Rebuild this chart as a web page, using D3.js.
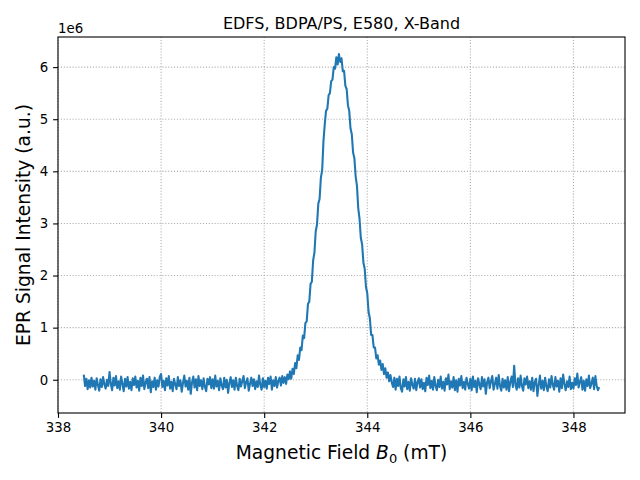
<!DOCTYPE html>
<html>
<head>
<meta charset="utf-8">
<script src="https://cdn.jsdelivr.net/npm/d3@7"></script>
<style>
  body { margin: 0; background: #fff; }
  svg { display: block; font-family: "DejaVu Sans", sans-serif; }
</style>
</head>
<body>
<div class="epr-chart"></div>
<script>
const width = 640;
const height = 480;
const margin = { top: 37, right: 15, bottom: 67, left: 58 };

// magnetic field sweep (mT)
const field = [
  338.5,338.525,338.55,338.575,338.6,338.625,338.65,338.675,338.7,338.725,338.75,338.775,338.8,338.825,338.85,338.875,338.9,338.925,338.95,338.975,
  339,339.025,339.05,339.075,339.1,339.125,339.15,339.175,339.2,339.225,339.25,339.275,339.3,339.325,339.35,339.375,339.4,339.425,339.45,339.475,
  339.5,339.525,339.55,339.575,339.6,339.625,339.65,339.675,339.7,339.725,339.75,339.775,339.8,339.825,339.85,339.875,339.9,339.925,339.95,339.975,
  340,340.025,340.05,340.075,340.1,340.125,340.15,340.175,340.2,340.225,340.25,340.275,340.3,340.325,340.35,340.375,340.4,340.425,340.45,340.475,
  340.5,340.525,340.55,340.575,340.6,340.625,340.65,340.675,340.7,340.725,340.75,340.775,340.8,340.825,340.85,340.875,340.9,340.925,340.95,340.975,
  341,341.025,341.05,341.075,341.1,341.125,341.15,341.175,341.2,341.225,341.25,341.275,341.3,341.325,341.35,341.375,341.4,341.425,341.45,341.475,
  341.5,341.525,341.55,341.575,341.6,341.625,341.65,341.675,341.7,341.725,341.75,341.775,341.8,341.825,341.85,341.875,341.9,341.925,341.95,341.975,
  342,342.025,342.05,342.075,342.1,342.125,342.15,342.175,342.2,342.225,342.25,342.275,342.3,342.325,342.35,342.375,342.4,342.425,342.45,342.475,
  342.5,342.525,342.55,342.575,342.6,342.625,342.65,342.675,342.7,342.725,342.75,342.775,342.8,342.825,342.85,342.875,342.9,342.925,342.95,342.975,
  343,343.025,343.05,343.075,343.1,343.125,343.15,343.175,343.2,343.225,343.25,343.275,343.3,343.325,343.35,343.375,343.4,343.425,343.45,343.475,
  343.5,343.525,343.55,343.575,343.6,343.625,343.65,343.675,343.7,343.725,343.75,343.775,343.8,343.825,343.85,343.875,343.9,343.925,343.95,343.975,
  344,344.025,344.05,344.075,344.1,344.125,344.15,344.175,344.2,344.225,344.25,344.275,344.3,344.325,344.35,344.375,344.4,344.425,344.45,344.475,
  344.5,344.525,344.55,344.575,344.6,344.625,344.65,344.675,344.7,344.725,344.75,344.775,344.8,344.825,344.85,344.875,344.9,344.925,344.95,344.975,
  345,345.025,345.05,345.075,345.1,345.125,345.15,345.175,345.2,345.225,345.25,345.275,345.3,345.325,345.35,345.375,345.4,345.425,345.45,345.475,
  345.5,345.525,345.55,345.575,345.6,345.625,345.65,345.675,345.7,345.725,345.75,345.775,345.8,345.825,345.85,345.875,345.9,345.925,345.95,345.975,
  346,346.025,346.05,346.075,346.1,346.125,346.15,346.175,346.2,346.225,346.25,346.275,346.3,346.325,346.35,346.375,346.4,346.425,346.45,346.475,
  346.5,346.525,346.55,346.575,346.6,346.625,346.65,346.675,346.7,346.725,346.75,346.775,346.8,346.825,346.85,346.875,346.9,346.925,346.95,346.975,
  347,347.025,347.05,347.075,347.1,347.125,347.15,347.175,347.2,347.225,347.25,347.275,347.3,347.325,347.35,347.375,347.4,347.425,347.45,347.475,
  347.5,347.525,347.55,347.575,347.6,347.625,347.65,347.675,347.7,347.725,347.75,347.775,347.8,347.825,347.85,347.875,347.9,347.925,347.95,347.975,
  348,348.025,348.05,348.075,348.1,348.125,348.15,348.175,348.2,348.225,348.25,348.275,348.3,348.325,348.35,348.375,348.4,348.425,348.45,348.475,
  348.5
];

// EPR signal intensity, in units of 1e6 (a.u.)
const signal = [
  0.10,-0.12,0.02,-0.18,-0.01,-0.15,0.04,-0.13,-0.02,-0.19,0.03,-0.10,-0.21,0.01,-0.14,0.05,-0.09,-0.17,0.00,-0.12,
  0.15,-0.08,-0.20,0.04,-0.11,0.07,-0.16,-0.03,-0.19,0.06,-0.08,-0.22,0.02,-0.13,0.05,-0.17,-0.04,-0.20,0.03,-0.10,
  0.06,-0.15,-0.02,-0.21,0.04,-0.12,0.08,-0.18,-0.05,0.02,-0.16,0.05,-0.24,-0.03,-0.14,0.04,-0.19,-0.01,-0.13,0.06,
  0.11,-0.14,-0.02,-0.20,0.03,-0.11,0.07,-0.17,-0.04,-0.22,0.02,-0.09,-0.18,0.05,-0.12,-0.01,-0.23,-0.06,0.08,-0.13,
  -0.02,-0.19,0.04,-0.27,-0.05,0.06,-0.15,0.01,-0.20,0.07,-0.12,-0.01,-0.18,0.03,-0.14,-0.22,0.02,-0.09,0.05,-0.16,
  0.01,-0.17,0.08,-0.13,-0.02,-0.20,0.03,-0.11,-0.18,0.04,-0.15,0.00,-0.25,-0.06,0.05,-0.14,-0.01,-0.19,0.04,-0.12,
  -0.20,0.02,-0.13,-0.03,0.07,-0.16,-0.05,0.03,-0.21,-0.08,0.04,-0.12,0.01,-0.18,-0.03,-0.14,0.08,-0.10,-0.19,0.03,
  -0.14,-0.02,-0.17,0.04,-0.08,0.06,-0.19,-0.01,-0.12,0.05,-0.15,-0.02,0.04,-0.11,0.07,-0.06,0.05,-0.08,0.10,0.01,
  0.16,0.02,0.21,0.11,0.32,0.22,0.47,0.38,0.62,0.57,0.85,0.80,1.09,1.12,1.46,1.50,1.84,1.88,2.29,2.44,
  2.85,2.98,3.38,3.47,3.88,4.02,4.58,4.90,5.16,5.20,5.46,5.50,5.73,5.76,6.00,5.97,6.19,6.05,6.25,6.10,
  6.17,5.92,5.93,5.64,5.58,5.27,5.16,4.82,4.71,4.36,4.25,3.90,3.72,3.29,3.09,2.72,2.60,2.25,2.13,1.78,
  1.66,1.30,1.18,0.86,0.86,0.62,0.62,0.41,0.47,0.29,0.37,0.19,0.30,0.11,0.22,0.04,0.14,-0.03,0.09,-0.05,
  -0.14,0.04,-0.19,0.02,-0.12,0.06,-0.16,-0.23,0.01,-0.13,0.05,-0.18,-0.04,-0.21,0.03,-0.10,-0.17,0.02,-0.20,-0.05,
  0.03,-0.15,0.01,-0.18,-0.06,-0.22,0.04,-0.10,0.08,-0.16,-0.02,-0.19,0.05,-0.12,-0.20,0.00,-0.14,0.06,-0.17,-0.04,
  -0.21,0.03,-0.09,0.10,-0.18,-0.03,-0.15,0.05,-0.20,-0.01,-0.23,0.02,-0.11,0.07,-0.16,-0.04,-0.19,0.04,-0.08,-0.17,
  0.02,-0.20,0.06,-0.14,-0.02,-0.24,0.03,-0.09,-0.18,0.05,-0.13,0.01,-0.27,-0.05,0.04,-0.16,-0.03,0.07,-0.19,-0.08,
  0.04,-0.17,0.09,-0.12,-0.21,0.02,-0.15,-0.01,-0.19,0.05,-0.22,-0.04,0.06,-0.14,0.27,-0.10,-0.19,0.03,-0.15,0.08,
  -0.12,-0.21,0.03,-0.09,0.06,-0.16,-0.03,-0.19,0.04,-0.22,-0.05,0.02,-0.31,-0.11,0.08,-0.17,-0.02,-0.20,0.04,-0.13,
  -0.22,0.01,-0.15,0.07,-0.10,-0.19,0.05,-0.13,-0.02,-0.23,0.03,-0.16,0.10,-0.08,-0.20,-0.03,-0.14,0.06,-0.18,-0.06,
  -0.17,0.03,-0.10,0.12,-0.15,-0.04,0.05,-0.19,-0.02,-0.21,0.01,-0.12,0.08,-0.16,-0.07,0.04,-0.18,0.07,-0.11,-0.20,
  -0.14
];

const xTicks = [338, 340, 342, 344, 346, 348];
const yTicks = [0, 1, 2, 3, 4, 5, 6];

const titleText = "EDFS, BDPA/PS, E580, X-Band";
const yLabelText = "EPR Signal Intensity (a.u.)";
const offsetText = "1e6";

function eprChart() {
    const data = field.map((b, i) => ({ b: b, v: signal[i] }));

    const svg = d3
        .select(".epr-chart")
        .append("svg")
        .attr("width", width)
        .attr("height", height);

    const innerW = width - margin.left - margin.right;
    const innerH = height - margin.top - margin.bottom;

    // matplotlib style 5% margins around the data
    const xExt = d3.extent(data, (d) => d.b);
    const yExt = d3.extent(data, (d) => d.v);
    const xPad = (xExt[1] - xExt[0]) * 0.05;
    const yPad = (yExt[1] - yExt[0]) * 0.05;

    const x = d3
        .scaleLinear()
        .domain([xExt[0] - xPad, xExt[1] + xPad])
        .range([margin.left, margin.left + innerW]);
    const y = d3
        .scaleLinear()
        .domain([yExt[0] - yPad, yExt[1] + yPad])
        .range([margin.top + innerH, margin.top]);

    // dotted grid
    const grid = svg.append("g")
        .attr("stroke", "#b0b0b0")
        .attr("stroke-width", 1.1)
        .attr("stroke-dasharray", "1.1,1.8");
    grid.selectAll(".gx")
        .data(xTicks)
        .enter()
        .append("line")
        .attr("x1", (d) => x(d))
        .attr("x2", (d) => x(d))
        .attr("y1", margin.top)
        .attr("y2", margin.top + innerH);
    grid.selectAll(".gy")
        .data(yTicks)
        .enter()
        .append("line")
        .attr("x1", margin.left)
        .attr("x2", margin.left + innerW)
        .attr("y1", (d) => y(d))
        .attr("y2", (d) => y(d));

    // spectrum
    const line = d3.line()
        .x((d) => x(d.b))
        .y((d) => y(d.v));
    svg.append("path")
        .datum(data)
        .attr("d", line)
        .attr("fill", "none")
        .attr("stroke", "#1f77b4")
        .attr("stroke-width", 2.08)
        .attr("stroke-linejoin", "round");

    // axes
    const xAxis = d3.axisBottom(x)
        .tickValues(xTicks)
        .tickFormat(d3.format("d"))
        .tickSize(4.9)
        .tickPadding(4.9);
    const yAxis = d3.axisLeft(y)
        .tickValues(yTicks)
        .tickFormat(d3.format("d"))
        .tickSize(4.9)
        .tickPadding(4.9);

    const gx = svg.append("g")
        .attr("transform", `translate(0,${margin.top + innerH})`)
        .call(xAxis);
    const gy = svg.append("g")
        .attr("transform", `translate(${margin.left},0)`)
        .call(yAxis);
    [gx, gy].forEach((g) => {
        g.select(".domain").remove();
        g.selectAll(".tick line").attr("stroke", "#000").attr("stroke-width", 1.1);
        g.selectAll(".tick text")
            .attr("fill", "#000")
            .style("font-family", "DejaVu Sans")
            .style("font-size", "13.33px");
    });

    // frame
    svg.append("rect")
        .attr("x", margin.left)
        .attr("y", margin.top)
        .attr("width", innerW)
        .attr("height", innerH)
        .attr("fill", "none")
        .attr("stroke", "#000")
        .attr("stroke-width", 1.1);

    // offset text
    svg.append("text")
        .attr("x", margin.left)
        .attr("y", margin.top - 4)
        .attr("font-size", 13.33)
        .text(offsetText);

    // title
    svg.append("text")
        .attr("x", margin.left + innerW / 2)
        .attr("y", margin.top - 8)
        .attr("text-anchor", "middle")
        .attr("font-size", 16)
        .text(titleText);

    // x label with math B_0
    const xl = svg.append("text")
        .attr("x", margin.left + innerW / 2)
        .attr("y", 459)
        .attr("text-anchor", "middle")
        .attr("font-size", 18.67);
    xl.append("tspan").text("Magnetic Field ");
    xl.append("tspan").attr("font-style", "italic").text("B");
    xl.append("tspan").attr("font-size", 13).attr("dy", 3.5).text("0");
    xl.append("tspan").attr("dy", -3.5).text(" (mT)");

    // y label
    svg.append("text")
        .attr("transform", `translate(30,${margin.top + innerH / 2}) rotate(-90)`)
        .attr("text-anchor", "middle")
        .attr("font-size", 18.67)
        .text(yLabelText);
}

eprChart();
</script>
</body>
</html>
